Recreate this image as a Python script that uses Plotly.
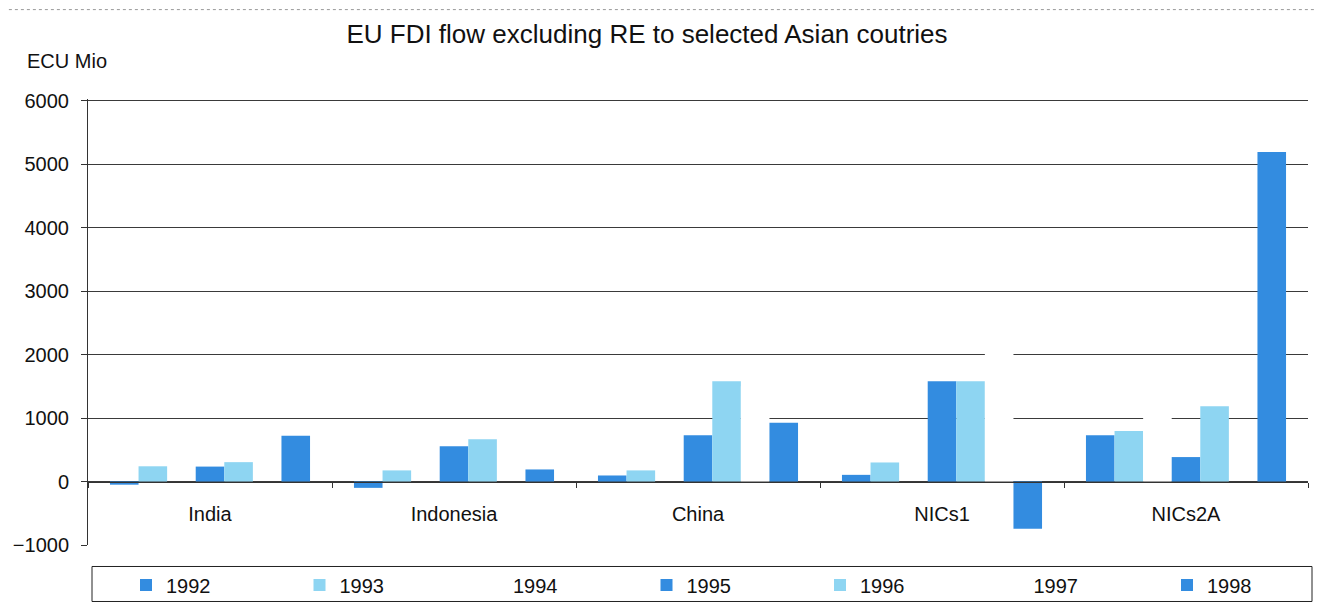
import plotly.graph_objects as go

categories = ["India", "Indonesia", "China", "NICs1", "NICs2A"]
years = ["1992", "1993", "1994", "1995", "1996", "1997", "1998"]
v1992 = [-50, -100, 95, 105, 730]
v1993 = [240, 175, 175, 300, 795]
v1994 = [0, 0, 0, 0, 1500]
v1995 = [235, 555, 730, 1580, 385]
v1996 = [305, 665, 1580, 1580, 1185]
v1997 = [0, 0, 1500, 2500, 0]
v1998 = [720, 190, 925, -745, 5190]
series = [v1992, v1993, v1994, v1995, v1996, v1997, v1998]

BLUE = "#338ce0"
LIGHT = "#8ed5f2"
colors = [BLUE, LIGHT, "#ffffff", BLUE, LIGHT, "#ffffff", BLUE]

FONT = "Liberation Sans, Arial, sans-serif"
TXT = "#111111"

fig = go.Figure()
for yr, vals, col in zip(years, series, colors):
    fig.add_trace(go.Bar(
        name=yr, x=categories, y=vals,
        marker=dict(color=col, line=dict(width=0)),
    ))

# page body has an 8px margin: figure pixel = screen pixel - OFF
OFF = 8
W, H = 1322 - OFF, 603 - OFF
YMIN, YMAX = -1000, 6025
ppu = (545.5 - 101) / 7000.0          # pixels per unit
top_px = (101 - OFF) - (YMAX - 6000) * ppu
L = 88 - OFF
R = W - (1308 - OFF)
T = top_px
B = H - (545.5 - OFF)
pw, ph = W - L - R, H - T - B


def py(y):   # screen y -> paper y
    return (H - B - (y - OFF)) / ph


def px(x):   # screen x -> paper x
    return ((x - OFF) - L) / pw


fig.update_layout(
    width=W, height=H,
    margin=dict(l=L, r=R, t=T, b=B, autoexpand=False),
    paper_bgcolor="white", plot_bgcolor="white",
    barmode="group", bargap=0.18, bargroupgap=0,
    font=dict(family=FONT, size=20, color=TXT),
    title=dict(
        text="EU FDI flow excluding RE to selected Asian coutries",
        x=(647 - OFF) / W, xanchor="center", xref="container",
        y=1 - (34 - OFF) / H, yanchor="middle", yref="container",
        font=dict(family=FONT, size=26, color=TXT),
    ),
    showlegend=True,
    legend=dict(
        orientation="h",
        x=px(126), xanchor="left",
        y=py(566), yanchor="top",
        entrywidth=128.5, entrywidthmode="pixels",
        borderwidth=0, bgcolor="rgba(0,0,0,0)",
        font=dict(family=FONT, size=20, color=TXT),
        traceorder="normal",
        itemclick=False, itemdoubleclick=False,
    ),
    xaxis=dict(
        type="category",
        anchor="free", position=(0 - YMIN) / (YMAX - YMIN),
        showline=True, linecolor="#333333", linewidth=1,
        ticks="outside", tickson="boundaries", ticklen=5, tickcolor="#333333",
        showgrid=False,
        ticklabelstandoff=14,
        tickfont=dict(family=FONT, size=20, color=TXT),
    ),
    yaxis=dict(
        range=[YMIN, YMAX], tickvals=[-1000, 0, 1000, 2000, 3000, 4000, 5000, 6000],
        showline=True, linecolor="#333333", linewidth=1,
        ticks="outside", ticklen=6, tickcolor="#333333",
        showgrid=True, gridcolor="#3a3a3a", gridwidth=1,
        zeroline=False,
        ticklabelstandoff=8,
        tickfont=dict(family=FONT, size=20, color=TXT),
    ),
    annotations=[dict(
        text="ECU Mio", xref="paper", yref="paper",
        x=px(25), y=py(61),
        xanchor="left", yanchor="middle", showarrow=False,
        font=dict(family=FONT, size=20, color=TXT),
    )],
    shapes=[
        dict(
            type="rect", xref="paper", yref="paper",
            x0=px(6), x1=px(1317),
            y0=py(640), y1=py(10),
            line=dict(color="#999999", width=1, dash="dot"),
            fillcolor="rgba(0,0,0,0)", layer="below",
        ),
        dict(
            type="rect", xref="paper", yref="paper",
            x0=px(92), x1=px(1312),
            y0=py(602), y1=py(567),
            line=dict(color="#222222", width=1),
            fillcolor="rgba(0,0,0,0)", layer="above",
        ),
    ],
)

fig.write_html("out.html")
